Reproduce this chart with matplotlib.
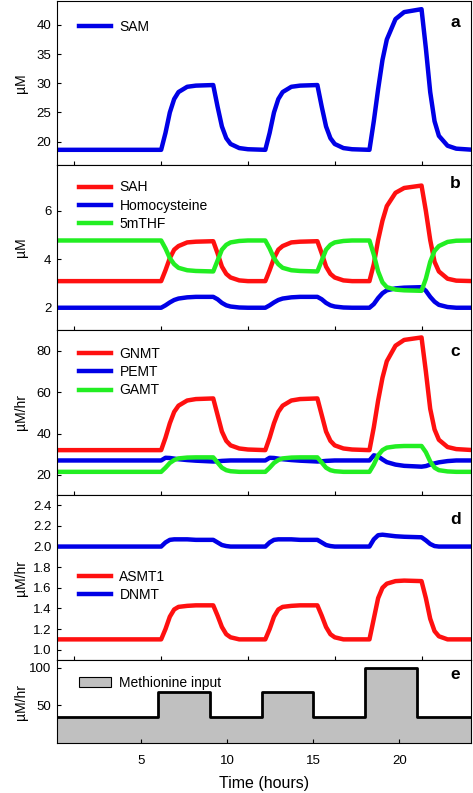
import matplotlib
matplotlib.use("Agg")
import matplotlib.pyplot as plt
from matplotlib.patches import Patch

plt.rcParams['font.family'] = ['Liberation Sans', 'DejaVu Sans']

# time grid (hours)
T = [0, 6, 6.25, 6.5, 6.75, 7, 7.5, 8, 9, 9.25, 9.5, 9.75, 10, 10.5, 11,
     12, 12.25, 12.5, 12.75, 13, 13.5, 14, 15, 15.25, 15.5, 15.75, 16, 16.5, 17,
     18, 18.25, 18.5, 18.75, 19, 19.5, 20, 21, 21.25, 21.5, 21.75, 22, 22.5, 23,
     24]

# panel a
sam = [18.6,
       18.6, 21.5, 25.0, 27.3, 28.5, 29.4, 29.6, 29.7, 26.0, 22.6, 20.6, 19.6, 18.9, 18.7,
       18.6, 21.5, 25.0, 27.3, 28.5, 29.4, 29.6, 29.7, 26.0, 22.6, 20.6, 19.6, 18.9, 18.7,
       18.6, 23.5, 29.0, 34.0, 37.5, 41.0, 42.2, 42.7, 36.0, 28.5, 23.5, 21.0, 19.3, 18.8,
       18.6]

# panel b
sah = [3.1,
       3.1, 3.55, 4.05, 4.4, 4.55, 4.7, 4.73, 4.75, 4.25, 3.7, 3.4, 3.25, 3.13, 3.1,
       3.1, 3.55, 4.05, 4.4, 4.55, 4.7, 4.73, 4.75, 4.25, 3.7, 3.4, 3.25, 3.13, 3.1,
       3.1, 3.8, 4.8, 5.6, 6.2, 6.75, 6.95, 7.05, 6.0, 4.8, 3.9, 3.5, 3.2, 3.12,
       3.1]
hcy = [2.0,
       2.0, 2.1, 2.22, 2.32, 2.38, 2.43, 2.45, 2.45, 2.35, 2.2, 2.1, 2.05, 2.01, 2.0,
       2.0, 2.1, 2.22, 2.32, 2.38, 2.43, 2.45, 2.45, 2.35, 2.2, 2.1, 2.05, 2.01, 2.0,
       2.0, 2.15, 2.4, 2.6, 2.72, 2.8, 2.83, 2.85, 2.7, 2.45, 2.25, 2.12, 2.03, 2.0,
       2.0]
mthf = [4.78,
        4.78, 4.45, 4.05, 3.8, 3.65, 3.55, 3.52, 3.5, 3.95, 4.4, 4.6, 4.7, 4.76, 4.78,
        4.78, 4.45, 4.05, 3.8, 3.65, 3.55, 3.52, 3.5, 3.95, 4.4, 4.6, 4.7, 4.76, 4.78,
        4.78, 4.2, 3.5, 3.05, 2.85, 2.75, 2.72, 2.7, 3.2, 3.9, 4.35, 4.55, 4.72, 4.77,
        4.78]

# panel c
gnmt = [32,
        32, 38, 45, 50.5, 53.5, 56, 56.7, 57, 49, 41, 36.5, 34.3, 32.8, 32.3,
        32, 38, 45, 50.5, 53.5, 56, 56.7, 57, 49, 41, 36.5, 34.3, 32.8, 32.3,
        32, 43, 56, 67, 75, 82.5, 85.3, 86.5, 70, 52, 42, 37, 33.5, 32.5,
        32]
pemt = [27,
        27, 28.3, 28.2, 27.9, 27.6, 27.2, 26.9, 26.5, 26.6, 26.8, 26.9, 27.0, 27.0, 27.0,
        27, 28.3, 28.2, 27.9, 27.6, 27.2, 26.9, 26.5, 26.6, 26.8, 26.9, 27.0, 27.0, 27.0,
        27, 29.5, 29.0, 27.5, 26.2, 25.0, 24.4, 24.0, 24.3, 25.0, 25.6, 26.1, 26.7, 27.0,
        27]
gamt = [21.5,
        21.5, 23.5, 25.8, 27.2, 28.0, 28.4, 28.5, 28.5, 26.0, 23.5, 22.3, 21.8, 21.5, 21.5,
        21.5, 23.5, 25.8, 27.2, 28.0, 28.4, 28.5, 28.5, 26.0, 23.5, 22.3, 21.8, 21.5, 21.5,
        21.5, 25, 29.5, 32, 33.2, 33.8, 34, 34, 31, 26.5, 23.5, 22.3, 21.7, 21.5,
        21.5]

# panel d
asmt1 = [1.1,
         1.1, 1.2, 1.32, 1.39, 1.415, 1.425, 1.43, 1.43, 1.33, 1.22, 1.15, 1.12, 1.1, 1.1,
         1.1, 1.2, 1.32, 1.39, 1.415, 1.425, 1.43, 1.43, 1.33, 1.22, 1.15, 1.12, 1.1, 1.1,
         1.1, 1.3, 1.5, 1.6, 1.64, 1.665, 1.67, 1.665, 1.5, 1.3, 1.18, 1.13, 1.1, 1.1,
         1.1]
dnmt = [2.0,
        2.0, 2.04, 2.065, 2.07, 2.07, 2.07, 2.065, 2.065, 2.04, 2.015, 2.005, 2.0, 2.0, 2.0,
        2.0, 2.04, 2.065, 2.07, 2.07, 2.07, 2.065, 2.065, 2.04, 2.015, 2.005, 2.0, 2.0, 2.0,
        2.0, 2.07, 2.11, 2.115, 2.11, 2.10, 2.095, 2.09, 2.06, 2.025, 2.005, 2.0, 2.0, 2.0,
        2.0]

# panel e: methionine input (step)
met_t = [0, 6, 9, 12, 15, 18, 21, 24.2]
met_v = [34, 67, 34, 67, 34, 100, 34, 34]

RED = '#ff1010'
BLUE = '#0000e6'
GREEN = '#22ee22'
LW = 3.2

fig = plt.figure(figsize=(4.73, 7.93), dpi=100)
L, W = 57 / 473, 414 / 473
H = 793.0
ax_a = fig.add_axes([L, 1 - 165 / H, W, 164 / H])
ax_b = fig.add_axes([L, 1 - 330 / H, W, 165 / H])
ax_c = fig.add_axes([L, 1 - 495 / H, W, 165 / H])
ax_d = fig.add_axes([L, 1 - 660 / H, W, 165 / H])
ax_e = fig.add_axes([L, 1 - 743 / H, W, 83 / H])

ax_a.plot(T, sam, color=BLUE, lw=LW, label='SAM')
ax_b.plot(T, sah, color=RED, lw=LW, label='SAH')
ax_b.plot(T, hcy, color=BLUE, lw=LW, label='Homocysteine')
ax_b.plot(T, mthf, color=GREEN, lw=LW, label='5mTHF')
ax_c.plot(T, gnmt, color=RED, lw=LW, label='GNMT')
ax_c.plot(T, pemt, color=BLUE, lw=LW, label='PEMT')
ax_c.plot(T, gamt, color=GREEN, lw=LW, label='GAMT')
ax_d.plot(T, asmt1, color=RED, lw=LW, label='ASMT1')
ax_d.plot(T, dnmt, color=BLUE, lw=LW, label='DNMT')

ax_e.fill_between(met_t, met_v, step='post', color='#c0c0c0', lw=0)
ax_e.step(met_t, met_v, where='post', color='black', lw=2)

ax_a.set_ylim(16.0, 44.1)
ax_a.set_yticks([20, 25, 30, 35, 40])
ax_b.set_ylim(1.08, 7.9)
ax_b.set_yticks([2, 4, 6])
ax_c.set_ylim(10.3, 90.1)
ax_c.set_yticks([20, 40, 60, 80])
ax_d.set_ylim(0.9, 2.5)
ax_d.set_yticks([1.0, 1.2, 1.4, 1.6, 1.8, 2.0, 2.2, 2.4])
ax_d.set_yticklabels(['1.0', '1.2', '1.4', '1.6', '1.8', '2.0', '2.2', '2.4'])
ax_e.set_ylim(0, 110)
ax_e.set_yticks([50, 100])

for ax in [ax_a, ax_b, ax_c, ax_d]:
    ax.set_xlim(0, 23.85)
    ax.set_xticks([1, 6, 11, 16, 21])
    ax.set_xticklabels([])
ax_e.set_xlim(0.13, 24.16)
ax_e.set_xticks([5, 10, 15, 20])
ax_e.set_xlabel('Time (hours)', fontsize=11.5, labelpad=6)

for ax in [ax_a, ax_b, ax_c, ax_d, ax_e]:
    ax.tick_params(direction='in', length=3, width=0.8, labelsize=9.5, pad=4)
    ax.yaxis.set_label_coords(-0.07, 0.5)
ax_e.tick_params(axis='x', pad=9)

ax_a.set_ylabel('\u00b5M', fontsize=10)
ax_b.set_ylabel('\u00b5M', fontsize=10)
ax_c.set_ylabel('\u00b5M/hr', fontsize=10)
ax_d.set_ylabel('\u00b5M/hr', fontsize=10)
ax_e.set_ylabel('\u00b5M/hr', fontsize=10)

leg_kw = dict(frameon=False, fontsize=10, handlelength=2.3, handletextpad=0.6,
              labelspacing=0.3, borderaxespad=0, loc='upper left')
ax_a.legend(bbox_to_anchor=(0.04, 0.92), **leg_kw)
ax_b.legend(bbox_to_anchor=(0.04, 0.94), **leg_kw)
ax_c.legend(bbox_to_anchor=(0.04, 0.93), **leg_kw)
ax_d.legend(bbox_to_anchor=(0.04, 0.58), **leg_kw)
ax_e.legend(handles=[Patch(facecolor='#c0c0c0', edgecolor='black', lw=0.8, label='Methionine input')],
            bbox_to_anchor=(0.04, 0.88), **leg_kw)

for ax, letter, y in [(ax_a, 'a', 0.866), (ax_b, 'b', 0.89), (ax_c, 'c', 0.87),
                      (ax_d, 'd', 0.85), (ax_e, 'e', 0.82)]:
    ax.text(0.962, y, letter, transform=ax.transAxes, fontsize=12.5, fontweight='bold',
            ha='center', va='center')

fig.savefig('out.png', dpi=100)
